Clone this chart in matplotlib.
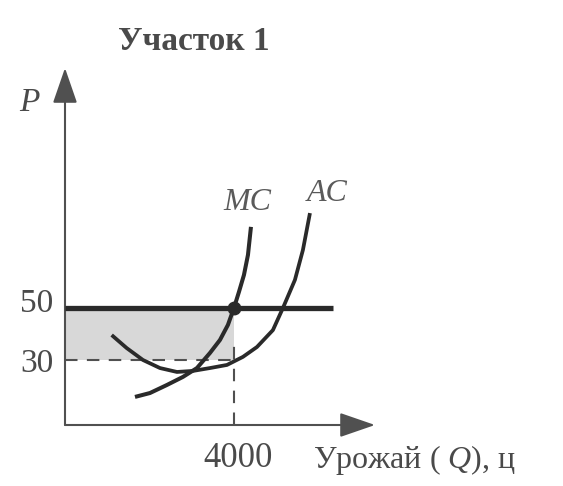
import matplotlib
matplotlib.use('Agg')
import matplotlib.pyplot as plt

# ─── Data ─────────────────────────────────────────────────────────────
price_level = 50          # market price P
price_min_ac = 30         # AC at optimum output
q_opt = 4000              # optimum output

mc_q = [1657, 2012, 2414, 2793, 3124, 3432, 3669, 3858, 4000, 4119, 4237,
        4332, 4403]
mc_p = [15.8, 17.3, 20.4, 23.5, 26.9, 32.7, 37.7, 43.5, 50.0, 56.2, 62.7,
        70.4, 81.2]

ac_q = [1105, 1460, 1846, 2249, 2651, 3030, 3432, 3835, 4213, 4545, 4923,
        5160, 5444, 5633, 5800]
ac_p = [39.6, 34.6, 30.0, 26.9, 25.4, 25.8, 26.9, 28.1, 31.2, 35.0, 41.5,
        50.0, 60.8, 72.3, 86.5]

y_ticks = [30, 50]
x_ticks = [4000]

plt.rcParams['font.family'] = ['Liberation Serif', 'DejaVu Serif']
plt.rcParams['mathtext.fontset'] = 'custom'
plt.rcParams['mathtext.rm'] = 'Liberation Serif'
plt.rcParams['mathtext.it'] = 'Liberation Serif:italic'

W, H = 563, 486
fig = plt.figure(figsize=(W / 100, H / 100), dpi=100)
ax = fig.add_axes([65 / W, (H - 425) / H, (375 - 65) / W, (425 - 68) / H])

xmax, ymin, ymax = 7340, 5, 142.3
ax.set_xlim(0, xmax)
ax.set_ylim(ymin, ymax)
for s in ax.spines.values():
    s.set_visible(False)
ax.set_xticks([])
ax.set_yticks([])

ink = '#2a2a2a'
axis_ink = '#505050'
text_ink = '#4a4a4a'

# axes with arrows
arrow = dict(arrowstyle='-|>,head_length=1.1,head_width=0.38', color=axis_ink,
             lw=1.5, mutation_scale=20, shrinkA=0, shrinkB=0)
ax.annotate('', xy=(0, ymax), xytext=(0, ymin), arrowprops=arrow,
            annotation_clip=False)
ax.annotate('', xy=(xmax, ymin), xytext=(0, ymin), arrowprops=arrow,
            annotation_clip=False)

# shaded profit area
ax.fill_between([0, q_opt], price_min_ac, price_level, color='#d8d8d8',
                lw=0, zorder=1)

# guide lines
ax.plot([0, q_opt], [price_min_ac, price_min_ac], ls=(0, (6, 4.5)),
        color=axis_ink, lw=1.5, zorder=2)
ax.plot([q_opt, q_opt], [ymin, price_min_ac + 6], ls=(0, (6, 4.5)),
        color=axis_ink, lw=1.5, zorder=2)

# price line
ax.plot([0, 6343], [price_level, price_level], color=ink, lw=3.8, zorder=3,
        solid_capstyle='butt')

# cost curves
ax.plot(mc_q, mc_p, color=ink, lw=2.9, solid_capstyle='butt',
        solid_joinstyle='round', zorder=4)
ax.plot(ac_q, ac_p, color=ink, lw=2.7, solid_capstyle='butt',
        solid_joinstyle='round', zorder=4)

# optimum point
ax.plot([q_opt], [price_level], 'o', ms=9, mfc=ink, mec=ink, zorder=5)

# labels
ax.text(4308, 90.4, 'MC', style='italic', fontsize=23, color='#5a5a5a',
        ha='center', va='center')
ax.text(6201, 94.2, 'AC', style='italic', fontsize=23, color='#5a5a5a',
        ha='center', va='center')

label_offset = {30: -1.5, 50: 1.5}
for v in y_ticks:
    ax.text(-280, v + label_offset[v], str(v), fontsize=24, color=text_ink,
            ha='right', va='center')
for v in x_ticks:
    ax.text(v + 100, ymin - 6.5, str(v), fontsize=25, color=text_ink,
            ha='center', va='top')

fig.text(29 / W, 1 - 103 / H, 'P', style='italic', fontsize=24,
         color=text_ink, ha='center', va='center')
fig.text(313 / W, 1 - 460 / H, r'Урожай ( $\mathit{Q}$), ц', fontsize=23,
         color=text_ink, ha='left', va='center')
fig.text(194 / W, 1 - 42 / H, 'Участок 1', fontweight='bold', fontsize=24,
         color=text_ink, ha='center', va='center')

plt.savefig('out.png', dpi=100)
plt.close()
